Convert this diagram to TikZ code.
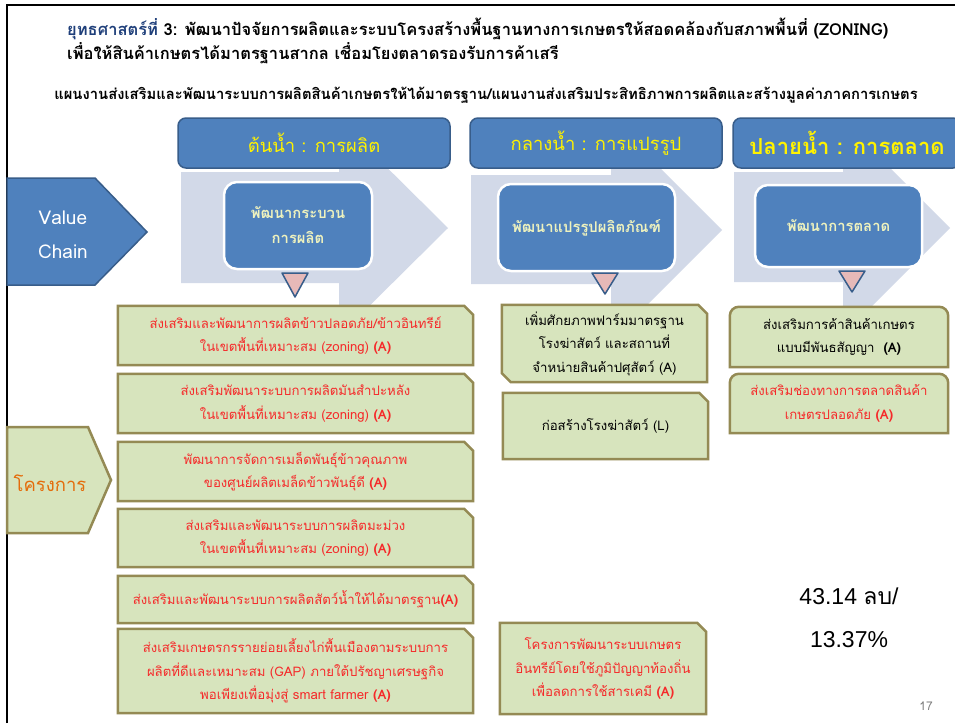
\documentclass[tikz,border=0pt]{standalone}
\usepackage{fontspec}
\setmainfont[Script=Thai]{Loma}
\newfontfamily\arialfont{Liberation Sans}
\usetikzlibrary{backgrounds}
\definecolor{hdrblue}{HTML}{4F81BD}
\definecolor{hdrline}{HTML}{385D8A}
\definecolor{flowgray}{HTML}{D2D9E8}
\definecolor{boxgreen}{HTML}{D7E4BD}
\definecolor{boxolive}{HTML}{948A54}
\definecolor{tripink}{HTML}{E6B9B8}
\definecolor{procyellow}{HTML}{EEF2BE}
\definecolor{redtext}{HTML}{F52A2A}
\definecolor{titleblue}{HTML}{1F3F7A}
\definecolor{projorange}{HTML}{E46C0A}
\newcommand\tagA{\textbf{(A)}}
% outlines of the project boxes, drawn from the text nodes
\newcommand\snipne[1]{\draw[boxline] (#1.south west) -- (#1.south east) -- ([yshift=-9]#1.north east) -- ([xshift=-9]#1.north east) -- (#1.north west) -- cycle;}
\newcommand\snipdiag[1]{\draw[boxline] ([yshift=9]#1.south west) -- ([xshift=9]#1.south west) -- (#1.south east) -- ([yshift=-9]#1.north east) -- ([xshift=-9]#1.north east) -- (#1.north west) -- cycle;}
\newcommand\roundtop[1]{\draw[boxline] (#1.south west) [rounded corners=9] -- (#1.north west) -- (#1.north east) [sharp corners] -- (#1.south east) -- cycle;}
\tikzset{
  hdr/.style={draw=hdrline, line width=1.5pt, fill=hdrblue, rounded corners=8pt, text=yellow, minimum height=50},
  proc/.style={draw=white, line width=2.5pt, fill=hdrblue, rounded corners=13pt, text=procyellow, align=center, font=\bfseries\fontsize{14.8}{25}\selectfont},
  ptext/.style={align=center, text=redtext, inner sep=0pt, font=\fontsize{13.2}{23.5}\selectfont},
  boxline/.style={draw=boxolive, fill=boxgreen, line width=2.5pt, line join=miter},
  flow/.style={fill=flowgray},
  tri/.style={draw=hdrline, line width=1.5pt, fill=tripink, line join=round}
}
\begin{document}
\begin{tikzpicture}[x=1pt,y=-1pt]
\useasboundingbox (0,0) rectangle (955,723);
\draw[line width=1.6pt] (7,723) -- (7,5) -- (955,5);
% titles
\node[anchor=west, align=left, inner sep=0pt, font=\bfseries\fontsize{16.5}{24}\selectfont] (title) at (67,41)
  {\textcolor{titleblue}{ยุทธศาสตร์ที่} 3: พัฒนาปัจจัยการผลิตและระบบโครงสร้างพื้นฐานทางการเกษตรให้สอดคล้องกับสภาพพื้นที่ (ZONING)\\
   เพื่อให้สินค้าเกษตรได้มาตรฐานสากล เชื่อมโยงตลาดรองรับการค้าเสรี};
\node[inner sep=0pt, font=\bfseries\fontsize{14.8}{16}\selectfont] (plan) at (486,95)
  {แผนงานส่งเสริมและพัฒนาระบบการผลิตสินค้าเกษตรให้ได้มาตรฐาน/แผนงานส่งเสริมประสิทธิภาพการผลิตและสร้างมูลค่าภาคการเกษตร};
% stage headers
\node[hdr, minimum width=272, font=\fontsize{18.4}{20}\selectfont] (up) at (314,143) {ต้นน้ำ : การผลิต};
\node[hdr, minimum width=252, font=\fontsize{18.4}{20}\selectfont] (mid) at (596,143) {กลางน้ำ : การแปรรูป};
\node[hdr, minimum width=228, font=\bfseries\fontsize{22}{24}\selectfont] (down) at (847,143) {ปลายน้ำ : การตลาด};
% value chain row
\draw[fill=hdrblue, draw=hdrline, line width=1.5pt] (7,178) -- (95,178) -- (147,232) -- (95,285) -- (7,285) -- cycle;
\node[align=center, text=white, font=\fontsize{19}{34}\selectfont] (chain) at (63,235) {Value\\Chain};
\node[proc, minimum width=148, minimum height=87] (make) at (298,225.5) {พัฒนากระบวน\\การผลิต};
\node[proc, minimum width=177, minimum height=87] (proc) at (586.5,227.5) {พัฒนาแปรรูปผลิตภัณฑ์};
\node[proc, minimum width=167, minimum height=82] (sell) at (838.5,226) {พัฒนาการตลาด};
\draw[tri] (282,273) -- (308,273) -- (295,297) -- cycle;
\draw[tri] (592,273) -- (618,273) -- (605,294) -- cycle;
\draw[tri] (839,271) -- (865,271) -- (852,292) -- cycle;
% project label
\draw[fill=boxgreen, draw=boxolive, line width=2.5pt] (7,427) -- (88,427) -- (111,480) -- (88,533) -- (7,533) -- cycle;
\node[text=projorange, font=\fontsize{18.5}{22}\selectfont] (proj) at (50,483) {โครงการ};
% upstream projects
\node[ptext, minimum width=355, minimum height=59] (u1) at (295.5,335.5)
  {ส่งเสริมและพัฒนาการผลิตข้าวปลอดภัย/ข้าวอินทรีย์\\ในเขตพื้นที่เหมาะสม (zoning) \tagA};
\node[ptext, minimum width=355, minimum height=59] (u2) at (295.5,403.5)
  {ส่งเสริมพัฒนาระบบการผลิตมันสำปะหลัง\\ในเขตพื้นที่เหมาะสม (zoning) \tagA};
\node[ptext, minimum width=355, minimum height=59] (u3) at (295.5,471.5)
  {พัฒนาการจัดการเมล็ดพันธุ์ข้าวคุณภาพ\\ของศูนย์ผลิตเมล็ดข้าวพันธุ์ดี \tagA};
\node[ptext, minimum width=355, minimum height=58] (u4) at (295.5,538)
  {ส่งเสริมและพัฒนาระบบการผลิตมะม่วง\\ในเขตพื้นที่เหมาะสม (zoning) \tagA};
\node[ptext, minimum width=355, minimum height=47] (u5) at (295.5,599.5)
  {ส่งเสริมและพัฒนาระบบการผลิตสัตว์น้ำให้ได้มาตรฐาน\tagA};
\node[ptext, minimum width=355, minimum height=84] (u6) at (295.5,671)
  {ส่งเสริมเกษตรกรรายย่อยเลี้ยงไก่พื้นเมืองตามระบบการ\\ผลิตที่ดีและเหมาะสม (GAP) ภายใต้ปรัชญาเศรษฐกิจ\\พอเพียงเพื่อมุ่งสู่ smart farmer \tagA};
% midstream projects
\node[ptext, text=black, minimum width=205, minimum height=77] (m1) at (604.5,343.5)
  {เพิ่มศักยภาพฟาร์มมาตรฐาน\\โรงฆ่าสัตว์ และสถานที่\\จำหน่ายสินค้าปศุสัตว์ (A)};
\node[ptext, text=black, minimum width=205, minimum height=66] (m2) at (605.5,426)
  {ก่อสร้างโรงฆ่าสัตว์ (L)};
\node[ptext, minimum width=206, minimum height=91] (m3) at (603,668.5)
  {โครงการพัฒนาระบบเกษตร\\อินทรีย์โดยใช้ภูมิปัญญาท้องถิ่น\\เพื่อลดการใช้สารเคมี \tagA};
% downstream projects
\node[ptext, text=black, minimum width=218, minimum height=60] (d1) at (839,337)
  {ส่งเสริมการค้าสินค้าเกษตร\\แบบมีพันธสัญญา~~\tagA};
\node[ptext, minimum width=218, minimum height=59] (d2) at (839,403.5)
  {ส่งเสริมช่องทางการตลาดสินค้า\\เกษตรปลอดภัย \tagA};
% budget
\node[font=\arialfont\fontsize{23}{26}\selectfont] (budget) at (849,596) {43.14 {\rmfamily ลบ}/};
\node[font=\arialfont\fontsize{23}{26}\selectfont] (share) at (849,640) {13.37\%};
\node[text=gray, font=\fontsize{12}{14}\selectfont] (page) at (926,706) {17};
\begin{scope}[on background layer]
\fill[white] (0,0) rectangle (955,723);
\fill[flow] (181,172) -- (339,172) -- (339,120) -- (448,228) -- (339,336) -- (339,283) -- (181,283) -- cycle;
\fill[flow] (471,175) -- (611,175) -- (611,119) -- (722,230) -- (611,341) -- (611,284) -- (471,284) -- cycle;
\fill[flow] (734,172) -- (843,172) -- (843,121) -- (950,228) -- (843,335) -- (843,282) -- (734,282) -- cycle;
\snipne{u1} \snipne{u2} \snipne{u3} \snipne{u4} \snipne{u5} \snipne{u6}
\snipdiag{m1} \snipne{m2} \snipne{m3}
\roundtop{d1} \roundtop{d2}
\end{scope}
\end{tikzpicture}
\end{document}
